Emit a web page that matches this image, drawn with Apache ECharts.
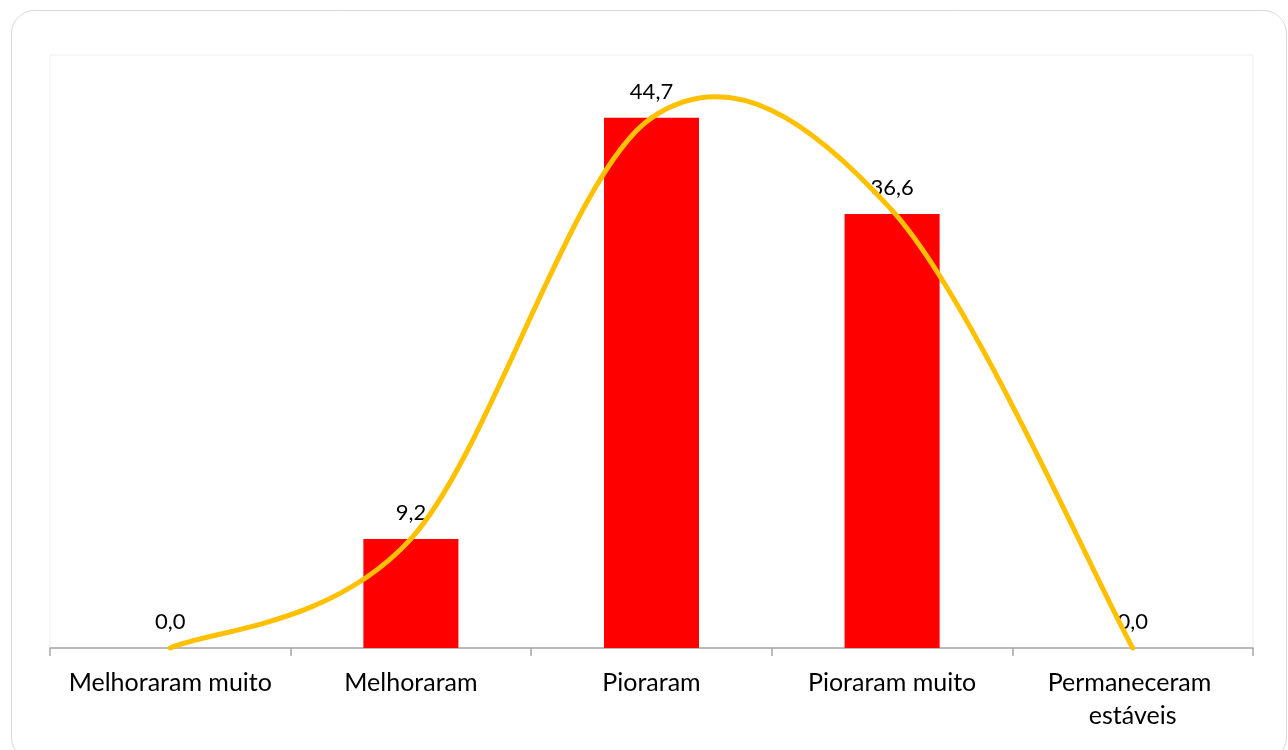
<!DOCTYPE html>
<html>
<head>
<meta charset="utf-8">
<script src="https://cdn.jsdelivr.net/npm/echarts@6/dist/echarts.min.js"></script>
<style>
html,body{margin:0;padding:0;background:#fff;}
#chart{width:1288px;height:750px;}
</style>
</head>
<body>
<div id="chart"></div>
<script>
const categories = ['Melhoraram muito', 'Melhoraram', 'Pioraram', 'Pioraram muito', 'Permaneceram estáveis'];
const barValues = [0.0, 9.2, 44.7, 36.6, 0.0];
const lineValues = [0.0, 9.2, 44.7, 36.9, 0.0];

const FONT = 'Lato, "Open Sans", sans-serif';
const TENSION = 1 / 6;

const chart = echarts.init(document.getElementById('chart'), null, {renderer: 'canvas'});

function renderSmooth(params, api) {
  if (params.dataIndex !== 0) return null;
  const pts = lineValues.map((v, i) => api.coord([i, v]));
  const n = pts.length;
  const children = [];
  for (let i = 0; i < n - 1; i++) {
    const p0 = pts[Math.max(i - 1, 0)];
    const p1 = pts[i];
    const p2 = pts[i + 1];
    const p3 = pts[Math.min(i + 2, n - 1)];
    children.push({
      type: 'bezierCurve',
      shape: {
        x1: p1[0], y1: p1[1], x2: p2[0], y2: p2[1],
        cpx1: p1[0] + (p2[0] - p0[0]) * TENSION,
        cpy1: p1[1] + (p2[1] - p0[1]) * TENSION,
        cpx2: p2[0] - (p3[0] - p1[0]) * TENSION,
        cpy2: p2[1] - (p3[1] - p1[1]) * TENSION
      },
      style: {fill: null, stroke: '#ffc000', lineWidth: 5, lineCap: 'round'}
    });
  }
  return {type: 'group', children: children};
}

chart.setOption({
  animation: false,
  backgroundColor: '#ffffff',
  graphic: [{
    type: 'rect', z: -10, silent: true,
    shape: {x: 11.5, y: 10.5, width: 1275, height: 750, r: 23},
    style: {fill: '#ffffff', stroke: '#d9d9d9', lineWidth: 1}
  }],
  grid: {
    left: 50, top: 55, right: 35, bottom: 102,
    show: true, borderColor: '#eeeeee', borderWidth: 1, backgroundColor: 'transparent'
  },
  xAxis: {
    type: 'category',
    data: categories,
    boundaryGap: true,
    axisLine: {show: true, lineStyle: {color: '#a6a6a6', width: 1.5}},
    axisTick: {show: true, length: 8, lineStyle: {color: '#a6a6a6', width: 1.5}},
    axisLabel: {
      color: '#000', fontFamily: FONT, fontSize: 25, margin: 18,
      width: 230, overflow: 'break', lineHeight: 33, interval: 0
    },
    splitLine: {show: false}
  },
  yAxis: {
    type: 'value', min: 0, max: 50, show: false,
    splitLine: {show: false}
  },
  series: [{
    type: 'bar',
    data: barValues,
    barWidth: '39.5%',
    itemStyle: {color: '#ff0000'},
    label: {
      show: true, position: 'top', distance: 15,
      color: '#000', fontFamily: FONT, fontSize: 22,
      formatter: p => p.value.toFixed(1).replace('.', ',')
    },
    z: 2
  }, {
    type: 'custom',
    data: lineValues.map((v, i) => [i, v]),
    encode: {x: 0, y: 1},
    renderItem: renderSmooth,
    silent: true,
    clip: false,
    z: 3
  }]
});
</script>
</body>
</html>
